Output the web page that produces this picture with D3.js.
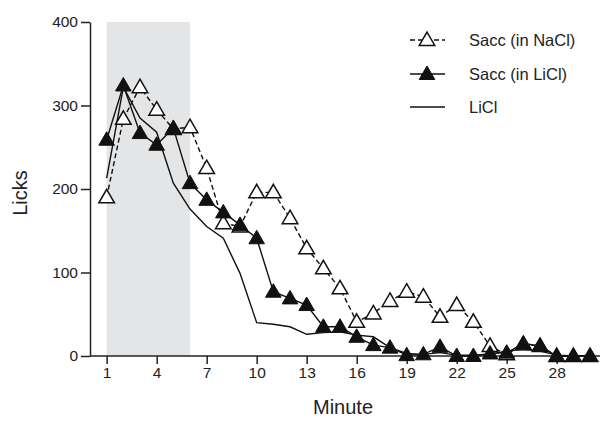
<!DOCTYPE html>
<html><head><meta charset="utf-8">
<script src="https://cdn.jsdelivr.net/npm/d3@7"></script>
<style>body{margin:0;background:#fff}svg{display:block}text{font-family:"Liberation Sans",Arial,sans-serif;fill:#222}</style>
</head><body>
<script>
const minutes = d3.range(1, 31);
const saccNaCl = [190,284,322,295,272,274,225,159,155,196,196,165,129,105,81,41,51,66,77,71,47,61,41,12,2,14,12,0,0,0];
const saccLiCl = [259,324,267,253,273,207,187,172,157,141,77,69,61,35,35,23,13,10,1,2,11,0,0,3,4,15,12,0,0,0];
const licl     = [213,322,285,268,207,176,155,141,99,40,38,35,26,28,29,25,23,10,3,2,4,1,1,2,6,8,6,1,0,0];
const xTicks = [1,4,7,10,13,16,19,22,25,28];
const yTicks = [0,100,200,300,400];
const shadeRange = [1, 6];
const seriesNames = ["Sacc (in NaCl)", "Sacc (in LiCl)", "LiCl"];

const W = 600, H = 421;
const svg = d3.select("body").append("svg").attr("width", W).attr("height", H);
const x = d3.scaleLinear().domain([0, 31]).range([90, 606.7]);
const y = d3.scaleLinear().domain([0, 400]).range([356, 22]);

svg.append("rect").attr("x", x(shadeRange[0])).attr("y", y(400))
  .attr("width", x(shadeRange[1]) - x(shadeRange[0])).attr("height", y(0) - y(400))
  .attr("fill", "#e4e5e7");

const xAxis = svg.append("g").attr("transform", `translate(0,${y(0)})`)
  .call(d3.axisBottom(x).tickValues(xTicks).tickSize(8).tickPadding(3).tickSizeOuter(0));
const yAxis = svg.append("g").attr("transform", `translate(${x(0)},0)`)
  .call(d3.axisLeft(y).tickValues(yTicks).tickSize(9).tickPadding(3).tickSizeOuter(0));
[xAxis, yAxis].forEach(g => {
  g.select(".domain").attr("stroke", "#222").attr("stroke-width", 1.5);
  g.selectAll(".tick line").attr("stroke", "#222").attr("stroke-width", 1.5);
  g.selectAll(".tick text").attr("font-size", 15.5).attr("fill", "#222")
    .attr("font-family", '"Liberation Sans",Arial,sans-serif');
});
xAxis.select(".domain").attr("d", `M${x(0)},0H${W}`);

svg.append("text").attr("x", 343).attr("y", 414).attr("text-anchor", "middle").attr("font-size", 20).text("Minute");
svg.append("text").attr("transform", "translate(27,193) rotate(-90)").attr("text-anchor", "middle").attr("font-size", 20).text("Licks");

const line = d3.line().x((d, i) => x(minutes[i])).y(d => y(d));
const tri = d3.symbol().type(d3.symbolTriangle).size(105);

svg.append("path").datum(licl).attr("d", line).attr("fill", "none").attr("stroke", "#111").attr("stroke-width", 1.4);
svg.append("path").datum(saccNaCl).attr("d", line).attr("fill", "none").attr("stroke", "#111").attr("stroke-width", 1.4).attr("stroke-dasharray", "5,3");
svg.append("path").datum(saccLiCl).attr("d", line).attr("fill", "none").attr("stroke", "#111").attr("stroke-width", 1.4);

svg.selectAll(".open").data(saccNaCl).enter().append("path")
  .attr("transform", (d, i) => `translate(${x(minutes[i])},${y(d) + 1})`)
  .attr("d", tri).attr("fill", "#fff").attr("stroke", "#111").attr("stroke-width", 1.5);
svg.selectAll(".filled").data(saccLiCl).enter().append("path")
  .attr("transform", (d, i) => `translate(${x(minutes[i])},${y(d) + 1})`)
  .attr("d", tri).attr("fill", "#111").attr("stroke", "#111").attr("stroke-width", 1);

// legend
const lg = svg.append("g");
const rows = [40, 74, 107];
lg.append("line").attr("x1", 410).attr("x2", 445).attr("y1", rows[0]).attr("y2", rows[0]).attr("stroke", "#111").attr("stroke-width", 1.4).attr("stroke-dasharray", "5,3");
lg.append("path").attr("transform", `translate(427,${rows[0] + 1})`).attr("d", tri).attr("fill", "#fff").attr("stroke", "#111").attr("stroke-width", 1.5);
lg.append("line").attr("x1", 410).attr("x2", 445).attr("y1", rows[1]).attr("y2", rows[1]).attr("stroke", "#111").attr("stroke-width", 1.4);
lg.append("path").attr("transform", `translate(427,${rows[1] + 1})`).attr("d", tri).attr("fill", "#111").attr("stroke", "#111");
lg.append("line").attr("x1", 410).attr("x2", 445).attr("y1", rows[2]).attr("y2", rows[2]).attr("stroke", "#111").attr("stroke-width", 1.4);
seriesNames.forEach((n, i) => {
  lg.append("text").attr("x", 469).attr("y", rows[i] + 6).attr("font-size", 16.5).text(n);
});
</script>
</body></html>
